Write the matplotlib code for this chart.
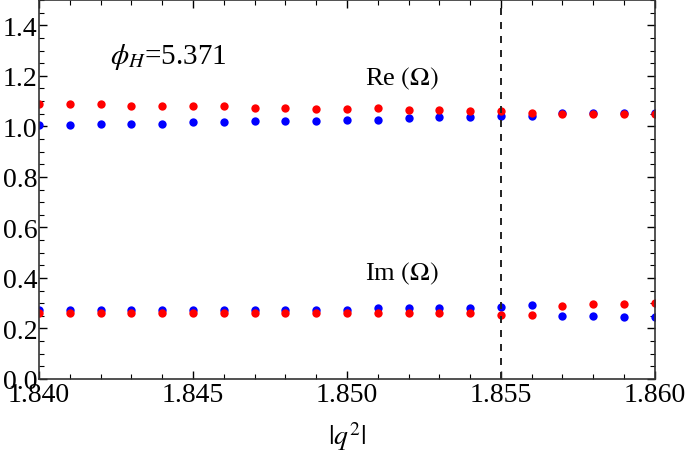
import matplotlib
matplotlib.use("Agg")
import matplotlib.pyplot as plt
from matplotlib.ticker import MultipleLocator
import numpy as np

# |q^2| grid
q2 = [1.840, 1.841, 1.842, 1.843, 1.844, 1.845, 1.846, 1.847, 1.848, 1.849, 1.850,
      1.851, 1.852, 1.853, 1.854, 1.855, 1.856, 1.857, 1.858, 1.859, 1.860]

# Re(Omega), two branches
re_blue = [1.004, 1.005, 1.011, 1.011, 1.011, 1.016, 1.016, 1.021, 1.021, 1.021, 1.027,
           1.024, 1.033, 1.037, 1.037, 1.041, 1.041, 1.054, 1.054, 1.054, 1.054]
re_red = [1.087, 1.087, 1.087, 1.079, 1.082, 1.082, 1.082, 1.074, 1.074, 1.070, 1.070,
          1.071, 1.065, 1.065, 1.060, 1.060, 1.053, 1.048, 1.048, 1.048, 1.048]

# Im(Omega), two branches
im_blue = [0.275, 0.275, 0.275, 0.275, 0.275, 0.275, 0.275, 0.275, 0.275, 0.275, 0.275,
           0.280, 0.280, 0.280, 0.280, 0.284, 0.291, 0.251, 0.251, 0.246, 0.246]
im_red = [0.263, 0.263, 0.263, 0.263, 0.263, 0.263, 0.263, 0.263, 0.263, 0.263, 0.263,
          0.262, 0.262, 0.262, 0.262, 0.255, 0.255, 0.290, 0.295, 0.295, 0.302]

x_ticks = [1.840, 1.845, 1.850, 1.855, 1.860]
y_ticks = [0.0, 0.2, 0.4, 0.6, 0.8, 1.0, 1.2, 1.4]

plt.rcParams["font.family"] = ["Liberation Serif", "DejaVu Serif"]
plt.rcParams["mathtext.fontset"] = "stix"

fig = plt.figure(figsize=(6.85, 4.56), dpi=100)
ax = fig.add_axes([0.057, 0.1667, 0.899, 0.831])

ax.plot(q2, re_blue, "o", color="#0000ff", ms=6, mec="none")
ax.plot(q2, im_blue, "o", color="#0000ff", ms=6, mec="none")
ax.plot(q2, re_red, "o", color="#ff0000", ms=6, mec="none")
ax.plot(q2, im_red, "o", color="#ff0000", ms=6, mec="none")

ax.axvline(1.855, color="#222222", ls=(0, (3.6, 3.6)), lw=1.4)

ax.text(1.8423, 1.28, r"$\phi_H$=5.371", fontsize=21, va="center")
ax.text(1.8518, 1.19, r"Re $(\Omega)$", fontsize=19, ha="center", va="center")
ax.text(1.8518, 0.42, r"Im $(\Omega)$", fontsize=19, ha="center", va="center")

ax.set_xlim(1.840, 1.860)
ax.set_ylim(0.0, 1.5)
ax.set_xticks(x_ticks)
ax.set_xticklabels(["%.3f" % v for v in x_ticks])
ax.set_yticks(y_ticks)
ax.set_yticklabels(["%.1f" % v for v in y_ticks])
ax.xaxis.set_minor_locator(MultipleLocator(0.001))
ax.yaxis.set_minor_locator(MultipleLocator(0.05))
ax.tick_params(which="both", direction="in", top=True, right=True, labelsize=20, pad=2)
ax.tick_params(axis="y", pad=1)
ax.tick_params(which="major", length=6, width=1)
ax.tick_params(which="minor", length=3.5, width=0.8)
for sp in ax.spines.values():
    sp.set_linewidth(1.2)
    sp.set_color("#333333")

ax.set_xlabel(r"$|q^2|$", fontsize=20, labelpad=9)

fig.savefig("out.png", dpi=100)
